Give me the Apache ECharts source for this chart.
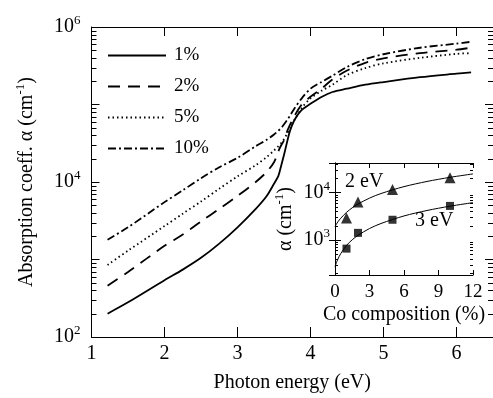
<!DOCTYPE html>
<html>
<head>
<meta charset="utf-8">
<script src="https://cdn.jsdelivr.net/npm/echarts@6/dist/echarts.min.js"></script>
<style>
  html, body { margin: 0; padding: 0; background: #fff; }
  #main { width: 493px; height: 398px; }
</style>
</head>
<body>
<div id="main"></div>
<script>
// photon energy (eV) and absorption coefficient per Co composition
const energy = [1.22, 1.5, 2.0, 2.25, 2.5, 2.75, 3.0, 3.25, 3.4, 3.5, 3.56, 3.6, 3.64, 3.68, 3.72, 3.78, 3.88, 4.0, 4.15, 4.3, 4.5, 4.75, 5.0, 5.5, 6.0, 6.2];
const abs1 = [200, 280, 540, 740, 1050, 1600, 2600, 4500, 6600, 9500, 12000, 16500, 23000, 33000, 46000, 63000, 85000, 102000, 125000, 145000, 160000, 180000, 195000, 225000, 250000, 260000];
const abs2 = [460, 690, 1500, 2100, 3100, 4500, 6600, 10000, 13500, 18000, 25000, 30000, 35000, 45000, 55000, 71000, 100000, 126000, 160000, 210000, 275000, 345000, 395000, 460000, 510000, 540000];
const abs5 = [850, 1300, 2700, 3900, 5600, 8200, 11800, 16500, 21000, 25500, 29000, 32000, 36000, 42000, 49000, 63000, 90000, 120000, 150000, 180000, 240000, 295000, 340000, 400000, 450000, 460000];
const abs10 = [1800, 2600, 5500, 7800, 11200, 15500, 20500, 29000, 35000, 41000, 46000, 50000, 56000, 63000, 72000, 89000, 120000, 160000, 195000, 235000, 305000, 385000, 445000, 540000, 610000, 645000];
const seriesNames = ['1%', '2%', '5%', '10%'];

// inset: alpha vs Co composition
const coComp = [1, 2, 5, 10];
const alpha2eV = [2900, 6300, 11500, 20500];
const alpha3eV = [650, 1400, 2650, 5200];
const fitComp = [0, 0.25, 0.5, 1, 1.5, 2, 3, 4, 6, 8, 10, 12];
const fit2eV = [1900, 2400, 2850, 3800, 4750, 5700, 7600, 9500, 13300, 17100, 20900, 24700];
const fit3eV = [270, 390, 510, 760, 1000, 1240, 1730, 2210, 3190, 4160, 5130, 6100];

// minor log ticks (2..9 x 10^n)
function logMinor(lo, hi) {
  const out = [];
  for (let e = 0; e < 8; e++) {
    for (let m = 2; m <= 9; m++) {
      const v = m * Math.pow(10, e);
      if (v > lo && v < hi) out.push(v);
    }
  }
  return out;
}
const mainMinor = logMinor(100, 1e6);
const insetMinor = logMinor(180, 42000);

const serif = "'Liberation Serif', 'DejaVu Serif', serif";
const black = '#000';

function powLabel(v, everyOther) {
  const e = Math.log10(v);
  const r = Math.round(e);
  if (Math.abs(e - r) > 1e-6) return '';
  if (everyOther && r % 2) return '';
  return '{b|10}{s|' + r + '}';
}
const powRich = {
  b: { fontFamily: serif, fontSize: 20, color: black },
  s: { fontFamily: serif, fontSize: 13, color: black, padding: [0, 0, 12, 0] }
};
const nameRich = {
  n: { fontFamily: serif, fontSize: 20, color: black },
  s: { fontFamily: serif, fontSize: 13, color: black, padding: [0, 0, 12, 0] }
};

function minorTicks(xIdx, yIdx, values, xMin, xMax, len) {
  return {
    type: 'custom',
    xAxisIndex: xIdx,
    yAxisIndex: yIdx,
    silent: true,
    z: 5,
    data: values.map(v => [xMin, v]),
    renderItem: function (params, api) {
      const v = api.value(1);
      const a = api.coord([xMin, v]);
      const b = api.coord([xMax, v]);
      const y = Math.round(a[1]) + 0.5;
      return {
        type: 'group',
        children: [
          { type: 'line', shape: { x1: a[0], y1: y, x2: a[0] + len, y2: y }, style: { stroke: black, lineWidth: 1 } },
          { type: 'line', shape: { x1: b[0], y1: y, x2: b[0] - len, y2: y }, style: { stroke: black, lineWidth: 1 } }
        ]
      };
    }
  };
}

const axisLine = { show: true, lineStyle: { color: black, width: 1 } };

function mainLine(name, values, dash) {
  return {
    name: name, type: 'line', xAxisIndex: 0, yAxisIndex: 0,
    symbol: 'none', showSymbol: false, smooth: 0.3,
    data: energy.map((e, i) => [e, values[i]]),
    lineStyle: { color: black, width: 1.8, type: dash },
    itemStyle: { color: black }
  };
}

const chart = echarts.init(document.getElementById('main'));

const option = {
  animation: false,
  backgroundColor: '#fff',
  grid: [
    { left: 91.5, top: 27, right: -3, bottom: 61 },
    { left: 335, top: 163, width: 138, height: 112 }
  ],
  legend: {
    data: seriesNames,
    orient: 'vertical',
    left: 107,
    top: 46,
    padding: 0,
    itemWidth: 58,
    itemHeight: 14,
    itemGap: 12,
    itemStyle: { opacity: 0 },
    textStyle: { fontFamily: serif, fontSize: 19, color: black, padding: [0, 0, 0, 3] }
  },
  xAxis: [
    {
      gridIndex: 0, type: 'value', min: 1, max: 6.5, interval: 1,
      axisLine: axisLine,
      axisTick: { inside: true, length: 10, lineStyle: { color: black } },
      axisLabel: { margin: 7, fontFamily: serif, fontSize: 20, color: black, showMaxLabel: false,
        formatter: v => (v % 1 === 0 ? String(v) : '') },
      splitLine: { show: false },
      name: 'Photon energy (eV)', nameLocation: 'middle', nameGap: 36,
      nameTextStyle: { fontFamily: serif, fontSize: 20, color: black }
    },
    {
      gridIndex: 0, type: 'value', position: 'top', min: 1, max: 6.5, interval: 1,
      axisLine: axisLine,
      axisTick: { inside: true, length: 9, lineStyle: { color: black } },
      axisLabel: { show: false },
      splitLine: { show: false }
    },
    {
      gridIndex: 1, type: 'value', min: 0, max: 12, interval: 3,
      axisLine: axisLine,
      axisTick: { inside: true, length: 5, lineStyle: { color: black } },
      axisLabel: { margin: 8, fontFamily: serif, fontSize: 19, color: black },
      splitLine: { show: false },
      name: 'Co composition (%)', nameLocation: 'middle', nameGap: 30,
      nameTextStyle: { fontFamily: serif, fontSize: 20, color: black }
    },
    {
      gridIndex: 1, type: 'value', position: 'top', min: 0, max: 12, interval: 3,
      axisLine: axisLine,
      axisTick: { inside: true, length: 5, lineStyle: { color: black } },
      axisLabel: { show: false },
      splitLine: { show: false }
    }
  ],
  yAxis: [
    {
      gridIndex: 0, type: 'log', logBase: 10, min: 100, max: 1e6,
      axisLine: axisLine,
      axisTick: { inside: true, length: 8, lineStyle: { color: black } },
      axisLabel: { margin: 11, formatter: v => powLabel(v, true), rich: powRich },
      splitLine: { show: false },
      name: '{n|Absorption coeff. α (cm}{s|-1}{n|)}', nameLocation: 'middle', nameGap: 52,
      nameTextStyle: { rich: nameRich }
    },
    {
      gridIndex: 0, type: 'log', logBase: 10, min: 100, max: 1e6, position: 'right',
      axisLine: axisLine,
      axisTick: { inside: true, length: 8, lineStyle: { color: black } },
      axisLabel: { show: false },
      splitLine: { show: false }
    },
    {
      gridIndex: 1, type: 'log', logBase: 10, min: 180, max: 42000, splitNumber: 2,
      axisLine: axisLine,
      axisTick: { inside: true, length: 6, lineStyle: { color: black } },
      axisLabel: { margin: 5, showMinLabel: false, showMaxLabel: false, formatter: v => powLabel(v, false), rich: powRich },
      splitLine: { show: false },
      name: '{n|α (cm}{s|-1}{n|)}', nameLocation: 'middle', nameGap: 37,
      nameTextStyle: { rich: nameRich }
    },
    {
      gridIndex: 1, type: 'log', logBase: 10, min: 180, max: 42000, splitNumber: 2, position: 'right',
      axisLine: axisLine,
      axisTick: { inside: true, length: 6, lineStyle: { color: black } },
      axisLabel: { show: false },
      splitLine: { show: false }
    }
  ],
  graphic: [
    { type: 'text', left: 345, top: 172, style: { text: '2 eV', font: '20px ' + serif, fill: black } },
    { type: 'text', left: 415, top: 211, style: { text: '3 eV', font: '20px ' + serif, fill: black } }
  ],
  series: [
    mainLine('1%', abs1, 'solid'),
    mainLine('2%', abs2, [12, 8]),
    mainLine('5%', abs5, [1.5, 3]),
    mainLine('10%', abs10, [8, 3, 2, 3]),
    minorTicks(0, 0, mainMinor, 1, 6.5, 5),
    {
      name: 'fit 2 eV', type: 'line', xAxisIndex: 2, yAxisIndex: 2, symbol: 'none', smooth: 0.3,
      data: fitComp.map((c, i) => [c, fit2eV[i]]),
      lineStyle: { color: black, width: 1 }
    },
    {
      name: 'fit 3 eV', type: 'line', xAxisIndex: 2, yAxisIndex: 2, symbol: 'none', smooth: 0.3,
      data: fitComp.map((c, i) => [c, fit3eV[i]]),
      lineStyle: { color: black, width: 1 }
    },
    {
      name: '2 eV', type: 'scatter', xAxisIndex: 2, yAxisIndex: 2, symbol: 'triangle', symbolSize: 11,
      data: coComp.map((c, i) => [c, alpha2eV[i]]), itemStyle: { color: black }
    },
    {
      name: '3 eV', type: 'scatter', xAxisIndex: 2, yAxisIndex: 2, symbol: 'rect', symbolSize: 8,
      data: coComp.map((c, i) => [c, alpha3eV[i]]), itemStyle: { color: black }
    },
    minorTicks(2, 2, insetMinor, 0, 12, 3)
  ]
};

chart.setOption(option);
</script>
</body>
</html>
